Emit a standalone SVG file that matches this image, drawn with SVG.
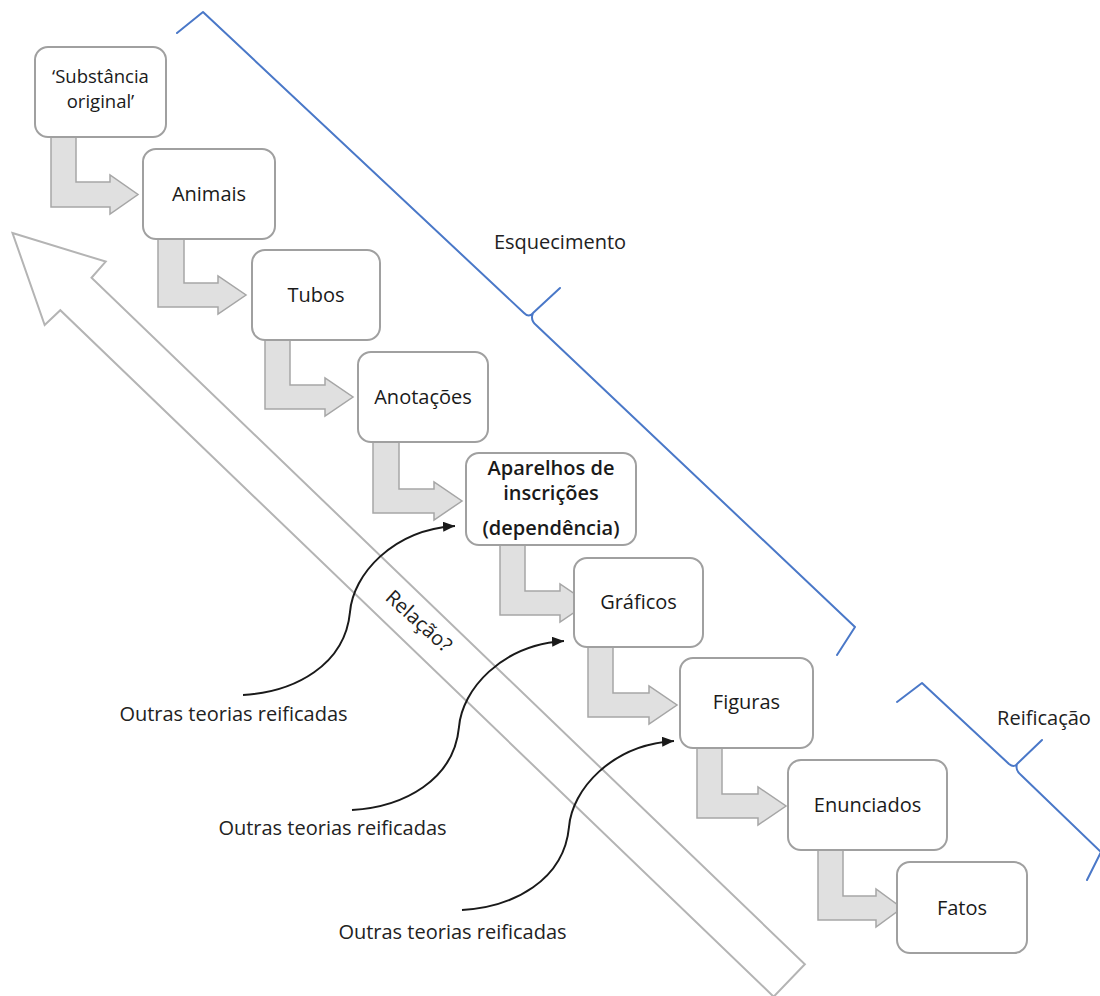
<svg xmlns="http://www.w3.org/2000/svg" width="1100" height="996" viewBox="0 0 1100 996">
  <style>
    .box { fill: #ffffff; stroke: #a0a0a0; stroke-width: 2; }
    .bend { fill: #e0e0e0; stroke: #a6a6a6; stroke-width: 1.5; stroke-linejoin: miter; }
    .lbl { font-family: "Open Sans", "Liberation Sans", sans-serif; font-size: 20px; fill: #1a1a1a; text-anchor: middle; }
    .bold { font-weight: 600; }
    .small { font-size: 18.5px; }
    .side { font-family: "Open Sans", "Liberation Sans", sans-serif; font-size: 20px; fill: #222222; text-anchor: middle; }
    .brace { fill: none; stroke: #4a78c8; stroke-width: 2; stroke-linejoin: round; stroke-linecap: round; }
    .big { fill: #ffffff; stroke: #b4b4b4; stroke-width: 2; }
    .curve { fill: none; stroke: #1a1a1a; stroke-width: 2; marker-end: url(#tip); }
  </style>
  <defs>
    <marker id="tip" markerUnits="userSpaceOnUse" markerWidth="14" markerHeight="12" refX="12" refY="5" orient="auto">
      <path d="M0,0 L12,5 L0,10 Z" fill="#1a1a1a"/>
    </marker>
  </defs>

  <rect width="1100" height="996" fill="#ffffff"/>

  <!-- large hollow arrow pointing back up the chain -->
  <g id="relacao">
    <g transform="translate(12.5,233) rotate(43.9)">
      <polygon class="big" points="0,0 87,-44 88,-22.5 1078,-22.5 1078,22.5 88,22.5 87,44"/>
    </g>
    <text class="side" font-size="23" transform="translate(419,621) rotate(42)" y="7">Relação?</text>
  </g>

  <!-- brackets -->
  <g id="esquecimento">
    <path class="brace" d="M177,33 L203,12 L524,313 Q529,318 533,313 L560,288 M533,313 Q530,320 536,325 L855,627 L837,655"/>
    <text class="side" x="560" y="249">Esquecimento</text>
  </g>
  <g id="reificacao">
    <path class="brace" d="M897,702 L922,683 L1009,764 Q1014,768 1017,764 L1042,740 M1017,764 Q1015,770 1021,775 L1101,852 L1087,880"/>
    <text class="side" x="1044" y="725">Reificação</text>
  </g>

  <!-- connectors: bent process arrows and incoming curves -->
  <g id="connectors">
    <polygon class="bend" points="51,135 76,135 76,182 110,182 110,175 138,194.5 110,214 110,207 51,207"/>
    <polygon class="bend" points="158,237 184,237 184,283 218,283 218,276 246,295 218,314 218,307 158,307"/>
    <polygon class="bend" points="265,338 290,338 290,385 325,385 325,378 353,397 325,416 325,409 265,409"/>
    <polygon class="bend" points="373,440 399,440 399,489 434,489 434,482 462,501 434,520 434,513 373,513"/>
    <polygon class="bend" points="500,543 525,543 525,591 560,591 560,584 588,603 560,622 560,615 500,615"/>
    <polygon class="bend" points="588,645 613,645 613,693 649,693 649,686 677,705 649,724 649,717 588,717"/>
    <polygon class="bend" points="697,746 722,746 722,794 758,794 758,787 786,806 758,825 758,818 697,818"/>
    <polygon class="bend" points="818,848 843,848 843,896 876,896 876,889 902,908 876,927 876,920 818,920"/>

    <path class="curve" d="M243,695 C295,692 345,665 350,612 C353,575 392,530 455,526"/>
    <path class="curve" d="M352,810 C404,807 454,780 459,727 C462,690 501,645 564,641"/>
    <path class="curve" d="M462,910 C514,907 564,880 569,827 C572,790 611,745 674,741"/>
  </g>

  <g id="n-substancia">
    <rect class="box" x="35" y="47" width="131" height="90" rx="13"/>
    <text class="lbl small" x="100.5" y="83">‘Substância</text>
    <text class="lbl small" x="100.5" y="108">original’</text>
  </g>
  <g id="n-animais">
    <rect class="box" x="143" y="149" width="132" height="90" rx="13"/>
    <text class="lbl" x="209" y="201">Animais</text>
  </g>
  <g id="n-tubos">
    <rect class="box" x="252" y="250" width="128" height="90" rx="13"/>
    <text class="lbl" x="316" y="302">Tubos</text>
  </g>
  <g id="n-anotacoes">
    <rect class="box" x="358" y="352" width="130" height="90" rx="13"/>
    <text class="lbl" x="423" y="404">Anotações</text>
  </g>
  <g id="n-aparelhos">
    <rect class="box" x="466" y="453" width="170" height="92" rx="13"/>
    <text class="lbl bold" x="551" y="475">Aparelhos de</text>
    <text class="lbl bold" x="551" y="500">inscrições</text>
    <text class="lbl bold" x="551" y="535">(dependência)</text>
  </g>
  <g id="n-graficos">
    <rect class="box" x="574" y="558" width="129" height="89" rx="13"/>
    <text class="lbl" x="638.5" y="609">Gráficos</text>
  </g>
  <g id="n-figuras">
    <rect class="box" x="680" y="658" width="133" height="90" rx="13"/>
    <text class="lbl" x="746.5" y="709">Figuras</text>
  </g>
  <g id="n-enunciados">
    <rect class="box" x="788" y="760" width="159" height="90" rx="13"/>
    <text class="lbl" x="867.5" y="812">Enunciados</text>
  </g>
  <g id="n-fatos">
    <rect class="box" x="897" y="862" width="130" height="91" rx="13"/>
    <text class="lbl" x="962" y="915">Fatos</text>
  </g>

  <g id="outras">
    <text class="side" x="233.5" y="721">Outras teorias reificadas</text>
    <text class="side" x="332.5" y="835">Outras teorias reificadas</text>
    <text class="side" x="452.5" y="939">Outras teorias reificadas</text>
  </g>
</svg>
